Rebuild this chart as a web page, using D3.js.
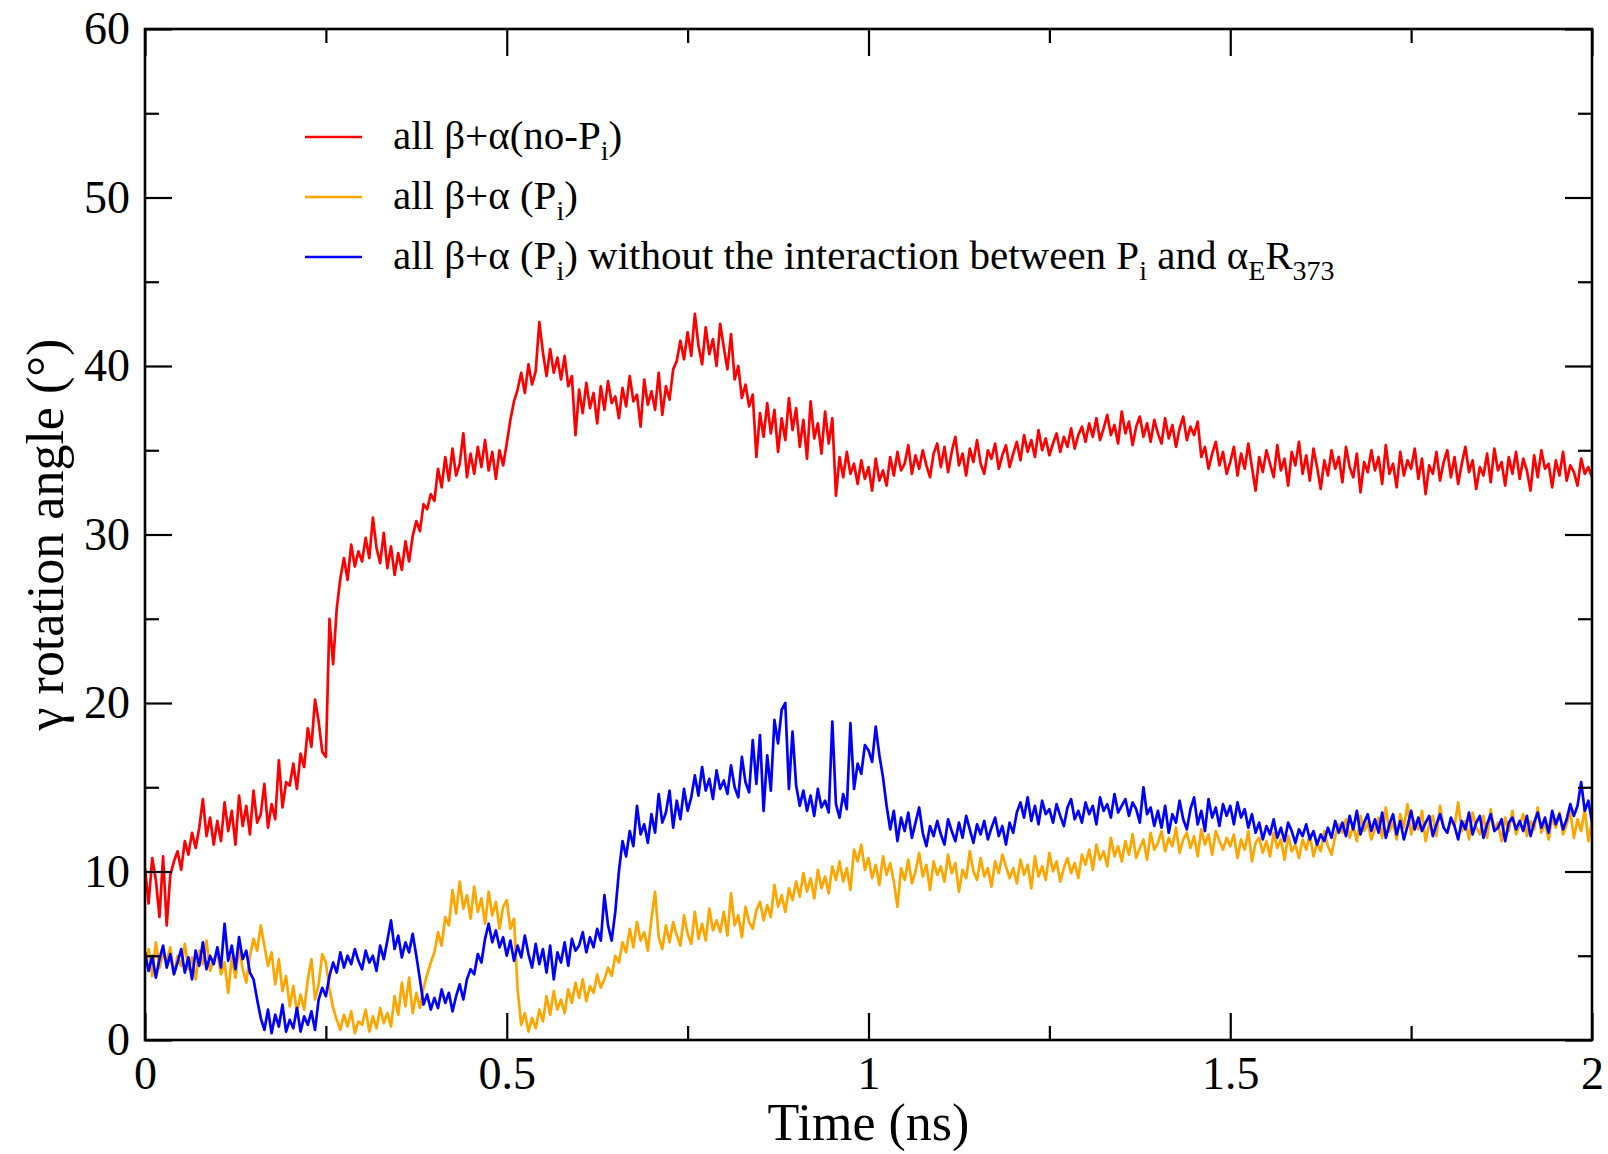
<!DOCTYPE html>
<html>
<head>
<meta charset="utf-8">
<script src="https://cdn.jsdelivr.net/npm/d3@7"></script>
<style>
  body { margin: 0; background: #fff; }
  svg { display: block; }
  text { font-family: "Liberation Serif", "Times New Roman", serif; fill: #000; }
</style>
</head>
<body>
<svg id="chart" width="1608" height="1154"></svg>
<script>
// Sampling interval of the trajectories (ns)
const DT = 0.005;

// all β+α (no-Pi): γ rotation angle in degrees, one value every DT
const angleNoPi = [
  10.2, 8.1, 10.8, 9.5, 7.3, 10.9, 6.8, 9.8, 10.6, 11.2, 10.1, 11.8, 11.0, 12.3, 11.4, 12.6, 14.3, 12.1, 13.2, 11.6,
  13.0, 11.8, 14.1, 12.4, 13.6, 11.6, 14.5, 12.7, 13.9, 12.2, 14.8, 12.9, 13.4, 15.2, 12.6, 14.0, 13.1, 16.6, 13.8, 15.3,
  15.1, 16.4, 14.9, 17.0, 16.2, 18.5, 17.4, 20.2, 18.9, 17.1, 16.8, 25.0, 22.3, 25.6, 27.4, 28.6, 27.3, 29.4, 28.1, 29.0,
  28.4, 29.8, 28.6, 31.0, 29.2, 28.3, 30.1, 28.0, 29.3, 27.6, 28.9, 27.9, 29.6, 28.4, 29.9, 30.8, 30.2, 31.8, 31.5, 32.4,
  32.0, 33.9, 32.8, 34.6, 33.2, 35.1, 33.5, 34.2, 36.0, 33.4, 34.8, 33.6, 35.2, 34.0, 35.6, 33.8, 34.9, 33.3, 35.0, 34.1,
  35.4, 36.8, 37.9, 38.6, 39.6, 38.4, 40.1, 38.9, 39.7, 42.6, 40.8, 39.4, 41.0, 39.6, 40.5, 39.2, 40.6, 38.8, 39.4, 35.9,
  38.6, 37.2, 39.0, 37.5, 38.4, 36.6, 38.8, 37.4, 39.1, 37.8, 38.2, 36.9, 38.7, 37.6, 39.4, 37.9, 38.3, 36.4, 39.2, 37.7,
  38.5, 37.4, 39.6, 37.1, 38.8, 38.0, 39.8, 40.3, 41.5, 40.4, 42.0, 40.6, 43.1, 41.2, 40.1, 42.3, 40.7, 41.6, 40.0, 42.5,
  41.1, 39.8, 41.9, 39.2, 40.0, 38.1, 38.9, 37.6, 38.3, 34.6, 37.2, 35.8, 37.8, 36.0, 37.4, 34.9, 36.9, 35.6, 38.1, 36.2,
  37.5, 35.2, 36.8, 34.5, 37.9, 35.7, 36.6, 34.8, 37.3, 35.4, 36.9, 32.3, 34.6, 33.4, 34.9, 33.6, 34.2, 33.0, 34.4, 33.3,
  34.0, 32.6, 34.5, 33.2, 33.8, 32.9, 34.6, 33.5, 34.9, 33.8, 34.2, 35.3, 33.6, 34.7, 33.9, 35.0, 34.1, 33.4, 34.8, 35.4,
  34.0, 35.2, 33.7, 34.9, 35.8, 34.1, 34.8, 33.5, 35.1, 34.3, 35.6, 34.2, 33.6, 35.0, 34.5, 35.4, 33.9, 34.7, 35.3, 34.0,
  34.8, 35.5, 34.4, 35.9, 34.9, 35.6, 34.6, 36.2, 35.0, 35.7, 34.7, 35.4, 36.0, 34.9, 35.8, 35.2, 36.3, 35.1, 35.9, 36.4,
  35.5, 36.6, 35.8, 36.9, 35.6, 36.3, 37.1, 35.9, 36.5, 35.4, 37.3, 36.0, 36.7, 35.3, 36.4, 37.0, 35.8, 36.6, 35.5, 36.8,
  36.0, 35.4, 36.9, 35.7, 36.5, 35.2, 36.3, 37.0, 35.6, 36.4, 35.9, 36.7, 34.6, 35.2, 33.9, 34.8, 35.5, 34.1, 34.9, 33.6,
  34.3, 35.2, 33.5, 34.8, 33.9, 35.4, 34.0, 32.6, 34.6, 33.7, 35.0, 34.2, 33.4, 35.3, 33.8, 34.5, 32.9, 34.9, 34.1, 35.5,
  33.6, 34.7, 33.2, 35.1, 34.0, 32.7, 34.4, 33.5, 35.0, 33.9, 34.6, 33.1, 35.2, 34.0, 33.4, 34.8, 32.5, 34.3, 33.7, 35.0,
  33.8, 34.6, 33.0, 35.3, 33.6, 34.2, 32.8, 34.9, 33.5, 34.4, 33.9, 35.1, 33.3, 34.5, 32.4, 34.1, 33.6, 34.9, 33.2, 34.3,
  35.0, 33.4, 34.6, 33.0, 34.2, 35.2, 33.7, 34.4, 32.7, 34.0, 33.5, 34.8, 33.1, 35.1, 33.8, 34.3, 32.9, 34.6, 33.6, 34.9,
  33.3, 34.5, 33.8, 32.6, 34.7, 33.4, 35.0, 33.9, 34.2, 32.8, 34.4, 33.5, 34.9, 33.2, 34.1, 33.7, 32.9, 34.5, 33.6, 34.0, 33.4
];

// all β+α (Pi)
const anglePi = [
  4.6, 5.4, 3.8, 5.8, 4.3, 5.1, 4.7, 5.5, 3.9, 5.0, 4.4, 5.7, 4.2, 4.9, 3.6, 5.3, 4.5, 5.9, 4.1, 4.8,
  5.2, 3.9, 4.6, 2.8, 4.9, 3.7, 5.5, 4.2, 3.4, 5.0, 6.0, 5.3, 6.8, 5.6, 4.4, 5.2, 3.3, 4.8, 2.9, 3.8,
  2.0, 3.2, 1.6, 2.7, 1.8, 3.6, 4.8, 2.4, 3.3, 5.1, 4.6, 3.0, 1.9, 1.2, 0.6, 1.5, 0.8, 1.7, 0.4, 1.1,
  0.9, 1.8, 0.5, 1.4, 0.7, 1.9, 1.0, 1.6, 0.8, 2.6, 1.5, 3.4, 2.0, 3.7, 1.6, 2.8, 1.9, 3.1, 3.9, 4.6,
  5.2, 6.4, 5.6, 7.3, 6.8, 8.9, 7.5, 9.4, 7.8, 8.6, 7.2, 9.1, 7.6, 8.4, 6.9, 8.8, 7.4, 8.2, 6.6, 7.9,
  8.3, 6.6, 7.2, 3.0, 0.9, 1.6, 0.5, 1.3, 0.7, 1.8, 1.1, 2.6, 1.5, 2.9, 1.8, 2.4, 1.6, 3.0, 2.2, 3.4,
  2.5, 3.6, 2.3, 3.2, 2.8, 3.9, 3.1, 3.6, 4.3, 3.8, 5.0, 4.6, 5.8, 5.2, 6.6, 5.5, 7.0, 5.9, 6.4, 5.3,
  7.2, 8.8, 6.1, 5.4, 6.8, 5.8, 7.0, 6.2, 5.6, 7.4, 6.3, 5.7, 7.6, 6.0, 6.9, 5.9, 7.8, 6.5, 7.1, 6.4,
  7.6, 6.2, 8.7, 6.8, 7.4, 6.1, 7.9, 7.0, 6.6, 7.7, 8.2, 7.1, 8.0, 7.3, 9.2, 7.9, 8.6, 7.6, 9.0, 8.3,
  9.4, 8.5, 9.9, 8.8, 9.6, 8.4, 10.1, 9.0, 9.7, 8.7, 10.3, 9.5, 10.6, 9.4, 10.2, 8.9, 11.3, 10.6, 11.6, 10.1,
  10.8, 9.6, 10.4, 9.2, 10.9, 9.8, 10.5, 9.4, 7.9, 10.2, 9.5, 10.7, 9.3, 10.0, 11.1, 9.7, 10.4, 8.9, 10.6, 9.8,
  10.3, 9.4, 11.0, 9.9, 10.5, 8.8, 10.1, 9.6, 11.2, 10.0, 9.5, 10.8, 9.7, 10.2, 9.1, 10.6, 9.9, 11.0, 10.3, 9.6,
  10.2, 9.3, 10.7, 9.8, 10.4, 9.0, 10.9, 9.7, 10.3, 9.5, 11.1, 10.0, 10.6, 9.4, 10.2, 10.8, 9.9, 10.5, 9.6, 11.0,
  10.4, 11.3, 10.1, 11.6, 10.7, 11.2, 10.3, 12.0, 10.9, 11.5, 10.6, 11.8, 11.0, 12.2, 10.8, 11.4, 11.9, 10.7, 12.3, 11.3,
  11.7, 12.4, 11.2, 12.0, 11.5, 12.6, 11.1, 11.9, 12.3, 11.4, 12.1, 10.9, 12.5, 11.6, 12.2, 11.0, 12.4, 11.8, 11.3, 12.0,
  11.5, 12.2, 10.8, 11.9, 11.3, 12.4, 10.6, 11.7, 12.0, 11.1, 11.8, 10.9, 12.3, 11.4, 11.9, 10.7, 12.1, 11.2, 11.6, 10.8,
  11.9, 11.3, 12.2, 10.9, 11.7, 11.2, 12.4, 11.5, 11.0, 12.1, 12.8, 12.3, 13.1, 12.0, 12.7, 11.8, 13.3, 12.4, 12.9, 11.9,
  12.5, 13.2, 12.0, 13.8, 12.4, 12.9, 11.9, 13.4, 12.6, 14.0, 12.2, 13.0, 12.5, 13.6, 11.8, 12.8, 13.3, 12.1, 13.9, 12.6,
  12.3, 13.1, 12.7, 14.1, 12.4, 13.0, 11.9, 13.5, 12.6, 12.2, 13.3, 12.0, 13.7, 12.5, 12.9, 11.8, 13.2, 12.4, 13.6, 12.2,
  12.8, 13.4, 12.1, 13.0, 12.5, 13.8, 12.3, 12.9, 11.9, 13.2, 12.6, 13.5, 12.2, 12.8, 13.6, 12.0, 13.1, 12.4, 13.7, 11.8, 13.0
];

// all β+α (Pi) without the Pi – αE R373 interaction
const anglePiNoR373 = [
  5.2, 4.1, 5.0, 3.7, 4.8, 5.6, 4.3, 5.1, 3.9, 4.6, 5.4, 4.0, 4.9, 3.6, 5.3, 4.4, 5.8, 4.2, 5.0, 4.5,
  5.5, 4.3, 6.9, 4.7, 5.6, 4.2, 6.1, 4.8, 5.3, 4.0, 3.6, 2.4, 1.3, 0.6, 1.8, 0.4, 1.5, 0.8, 2.1, 0.5,
  1.2, 0.7, 1.9, 0.5, 1.4, 0.9, 1.7, 0.6, 2.4, 3.1, 2.6, 3.8, 4.6, 4.0, 5.2, 4.3, 5.0, 4.5, 5.4, 4.7,
  4.2, 5.3, 4.6, 5.0, 4.1, 5.6, 4.8, 5.9, 7.1, 5.4, 6.2, 4.9, 5.8, 5.2, 6.3, 5.0, 3.6, 2.1, 2.7, 1.8,
  2.5, 1.9, 3.0, 2.2, 2.8, 1.7, 2.6, 3.3, 2.4, 3.6, 4.2, 3.9, 5.1, 4.6, 6.0, 6.9, 5.8, 6.5, 5.5, 6.1,
  5.0, 5.9, 4.7, 5.6, 4.9, 6.2, 5.1, 4.3, 5.7, 4.5, 5.4, 4.0, 5.6, 3.6, 5.2, 4.6, 5.8, 4.4, 6.0, 5.3,
  5.6, 6.4, 5.2, 6.1, 5.5, 6.6, 5.9, 8.6, 6.8, 5.9, 7.6, 10.0, 11.8, 10.9, 12.4, 11.5, 13.9, 12.2, 12.8, 11.7,
  13.4, 12.3, 14.6, 12.9, 13.5, 14.8, 12.6, 14.2, 13.1, 14.9, 13.6, 14.4, 15.7, 14.5, 16.2, 14.8, 15.5, 14.3, 16.0, 14.9,
  15.4, 14.6, 16.3, 15.0, 14.4, 16.8, 15.3, 14.7, 17.8, 15.2, 18.1, 13.6, 16.9, 14.8, 19.0, 17.6, 19.6, 20.0, 14.9, 18.3,
  15.1, 13.9, 14.8, 13.6, 14.5, 13.3, 14.9, 13.8, 14.2, 13.5, 18.9, 14.0, 13.2, 14.6, 13.7, 18.8, 14.9, 16.4, 15.8, 17.5,
  17.2, 16.5, 18.6, 16.9, 15.6, 13.9, 12.5, 13.6, 11.8, 13.2, 12.4, 13.5, 12.0, 12.9, 13.8, 12.3, 11.5, 12.7, 12.1, 13.0,
  12.2, 11.6, 13.1, 12.4, 11.8, 12.9, 12.0, 13.3, 12.5, 11.7, 12.8, 12.2, 13.0, 11.9, 12.6, 13.2, 12.1, 12.7, 11.6, 12.9,
  12.3, 13.5, 14.1, 13.2, 14.4, 13.0, 13.9, 12.8, 14.2, 13.4, 13.7, 12.9, 14.0, 13.3, 12.7, 13.8, 14.3, 13.1, 13.6, 12.9,
  14.1, 13.4, 13.9, 12.8, 14.4, 13.6, 14.0, 13.2, 14.6, 13.5, 13.9, 14.3, 13.3, 14.1, 13.7, 12.9, 15.0, 13.4, 13.8, 12.7,
  13.6, 12.6, 13.9, 12.3, 13.4, 12.9, 14.2, 13.1, 12.5, 13.7, 14.4, 12.8, 13.6, 12.4, 14.3, 13.2, 13.8, 12.7, 14.0, 13.3,
  13.9, 12.8, 14.1, 13.2, 13.7, 12.6, 13.4, 12.3, 12.9, 11.9, 12.7, 12.2, 13.1, 12.0, 12.6, 11.8, 12.9, 12.4, 11.7, 12.5,
  12.1, 12.8, 11.9, 12.4, 11.6, 12.2, 11.8, 12.6, 12.0, 13.0, 12.3, 12.9, 12.1, 13.3, 12.5, 13.6, 12.2, 12.9, 13.4, 12.4,
  13.1, 12.3, 13.5, 12.0, 12.8, 13.4, 12.2, 13.0, 11.9, 12.7, 13.6, 12.5, 13.2, 12.4, 12.9, 13.3, 12.1, 12.8, 13.4, 12.6,
  12.3, 13.2, 12.7, 11.9, 13.0, 12.5, 13.5, 12.2, 12.9, 13.3, 12.0, 12.8, 13.4, 12.4, 12.6, 13.1, 11.8, 12.9, 13.2, 12.5,
  13.0, 12.4, 13.3, 12.1, 12.9, 13.5, 12.6, 13.2, 12.3, 13.6, 12.8, 13.4, 12.5, 13.1, 14.0, 13.3, 13.9, 15.3, 13.6, 14.2, 12.9
];

const seriesColors = ["#ff0000", "#ffa500", "#0000ff"];
const xMajorTicks = [0, 0.5, 1, 1.5, 2];
const xMinorTicks = [0.25, 0.75, 1.25, 1.75];
const yMajorTicks = [0, 10, 20, 30, 40, 50, 60];
const yMinorTicks = [5, 15, 25, 35, 45, 55];

const W = 1608, H = 1154;
const M = { left: 145, right: 1592, top: 29, bottom: 1040 };

const svg = d3.select("#chart");
svg.append("rect").attr("width", W).attr("height", H).attr("fill", "#fff");

const x = d3.scaleLinear().domain([0, 2]).range([M.left, M.right]);
const y = d3.scaleLinear().domain([0, 60]).range([M.bottom, M.top]);

svg.append("defs").append("clipPath").attr("id", "plotClip")
  .append("rect")
  .attr("x", M.left).attr("y", M.top)
  .attr("width", M.right - M.left).attr("height", M.bottom - M.top);

// Traces
const line = d3.line()
  .x((d, i) => x(i * DT))
  .y(d => y(d));

const traces = [angleNoPi, anglePi, anglePiNoR373];
const gTraces = svg.append("g").attr("clip-path", "url(#plotClip)");
traces.forEach((vals, k) => {
  gTraces.append("path")
    .datum(vals)
    .attr("fill", "none")
    .attr("stroke", seriesColors[k])
    .attr("stroke-width", 2.7)
    .attr("stroke-linejoin", "round")
    .attr("d", line);
});

// Axes: inward ticks on all four sides
const MAJ = 27, MIN = 14, FONT_TICK = 46;
function styleAxis(g) {
  g.select(".domain").remove();
  g.selectAll(".tick line").attr("stroke", "#000").attr("stroke-width", 2.2);
  g.selectAll(".tick text")
    .style("font-family", '"Liberation Serif", "Times New Roman", serif')
    .style("font-size", FONT_TICK + "px")
    .attr("fill", "#000");
}

svg.append("g").attr("transform", `translate(0,${M.bottom})`)
  .call(d3.axisBottom(x).tickValues(xMajorTicks).tickFormat(d => d3.format("")(d))
    .tickSizeInner(-MAJ).tickSizeOuter(0).tickPadding(16))
  .call(styleAxis);
svg.append("g").attr("transform", `translate(0,${M.bottom})`)
  .call(d3.axisBottom(x).tickValues(xMinorTicks).tickFormat("").tickSizeInner(-MIN).tickSizeOuter(0))
  .call(styleAxis);
svg.append("g").attr("transform", `translate(0,${M.top})`)
  .call(d3.axisTop(x).tickValues(xMajorTicks).tickFormat("").tickSizeInner(-MAJ).tickSizeOuter(0))
  .call(styleAxis);
svg.append("g").attr("transform", `translate(0,${M.top})`)
  .call(d3.axisTop(x).tickValues(xMinorTicks).tickFormat("").tickSizeInner(-MIN).tickSizeOuter(0))
  .call(styleAxis);

svg.append("g").attr("transform", `translate(${M.left},0)`)
  .call(d3.axisLeft(y).tickValues(yMajorTicks).tickFormat(d3.format("d"))
    .tickSizeInner(-MAJ).tickSizeOuter(0).tickPadding(15))
  .call(styleAxis);
svg.append("g").attr("transform", `translate(${M.left},0)`)
  .call(d3.axisLeft(y).tickValues(yMinorTicks).tickFormat("").tickSizeInner(-MIN).tickSizeOuter(0))
  .call(styleAxis);
svg.append("g").attr("transform", `translate(${M.right},0)`)
  .call(d3.axisRight(y).tickValues(yMajorTicks).tickFormat("").tickSizeInner(-MAJ).tickSizeOuter(0))
  .call(styleAxis);
svg.append("g").attr("transform", `translate(${M.right},0)`)
  .call(d3.axisRight(y).tickValues(yMinorTicks).tickFormat("").tickSizeInner(-MIN).tickSizeOuter(0))
  .call(styleAxis);

// Frame
svg.append("rect")
  .attr("x", M.left).attr("y", M.top)
  .attr("width", M.right - M.left).attr("height", M.bottom - M.top)
  .attr("fill", "none").attr("stroke", "#000").attr("stroke-width", 2.6);

// Axis titles
svg.append("text")
  .attr("x", (M.left + M.right) / 2).attr("y", 1140)
  .attr("text-anchor", "middle")
  .style("font-size", "52px")
  .text("Time (ns)");

svg.append("text")
  .attr("transform", `translate(63,${(M.top + M.bottom) / 2}) rotate(-90)`)
  .attr("text-anchor", "middle")
  .style("font-size", "52px")
  .text("γ rotation angle (°)");

// Legend
const legendRows = [
  [["all β+α(no-P", 0], ["i", 1], [")", 0]],
  [["all β+α (P", 0], ["i", 1], [")", 0]],
  [["all β+α (P", 0], ["i", 1], [") without the interaction between P", 0], ["i", 1],
   [" and α", 0], ["E", 1], ["R", 0], ["373", 1]]
];
const LEG_Y = [137, 197, 257];
const LEG_FONT = 41, SUB_FONT = 28, SUB_SHIFT = 11;
const gLeg = svg.append("g");
legendRows.forEach((parts, r) => {
  const ly = LEG_Y[r];
  gLeg.append("line")
    .attr("x1", 305).attr("x2", 362).attr("y1", ly).attr("y2", ly)
    .attr("stroke", seriesColors[r]).attr("stroke-width", 2.4);
  const t = gLeg.append("text")
    .attr("x", 393).attr("y", ly + 12)
    .style("font-size", LEG_FONT + "px");
  let shifted = false;
  parts.forEach(([str, sub]) => {
    const ts = t.append("tspan").text(str);
    if (sub && !shifted) { ts.attr("dy", SUB_SHIFT); shifted = true; }
    else if (!sub && shifted) { ts.attr("dy", -SUB_SHIFT); shifted = false; }
    ts.style("font-size", (sub ? SUB_FONT : LEG_FONT) + "px");
  });
});
</script>
</body>
</html>
